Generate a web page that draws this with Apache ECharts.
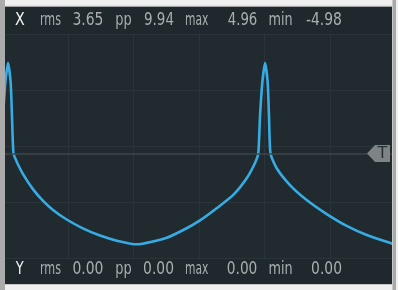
<!DOCTYPE html>
<html><head><meta charset="utf-8">
<script src="https://cdn.jsdelivr.net/npm/echarts@6/dist/echarts.min.js"></script>
<style>html,body{margin:0;padding:0;background:#efefef;overflow:hidden}#c{width:398px;height:290px;}</style>
</head><body><div id="c"></div>
<script>
// time in screen divisions, signal in volts
const timeDiv = [-0.018,0.008,0.043,0.084,0.125,0.145,0.168,0.217,0.318,0.470,0.623,0.776,0.980,1.234,1.489,1.744,2.049,2.507,2.812,3.015,3.270,3.524,3.728,3.855,3.905,3.931,3.966,4.008,4.049,4.069,4.092,4.186,4.389,4.644,4.950,5.255,5.561,5.966];
const volts   = [0.00,2.00,3.86,4.96,3.86,2.00,0.00,-0.45,-1.16,-1.98,-2.61,-3.11,-3.62,-4.12,-4.50,-4.78,-4.98,-4.62,-4.10,-3.67,-3.00,-2.27,-1.36,-0.52,0.00,2.00,3.86,4.96,3.86,2.00,0.00,-0.81,-1.73,-2.55,-3.32,-3.97,-4.47,-4.96];
const triggerLevel = 0;
const xRowTexts = ['X','rms','3.65','pp','9.94','max','4.96','min','-4.98'];
const yRowTexts = ['Y','rms','0.00','pp','0.00','max','0.00','min','0.00'];

// layout (pixel boxes of each token: left, right)
const xRowBoxes = [[15,24.3],[40.7,61],[73.3,102.7],[116,131],[144,173.3],[185.7,208.3],[227.7,256.7],[269.3,292],[306,341.3]];
const yRowBoxes = [[15,24.3],[40.7,61],[73.3,102.7],[116,131],[144,173.3],[185.7,208.3],[227.7,256.7],[269.3,292],[312,341.3]];

const chart = echarts.init(document.getElementById('c'), null, {renderer:'canvas'});
const data = timeDiv.map((t,i)=>[t, volts[i]]);

chart.setOption({
  backgroundColor:'#1f282c',
  animation:false,
  grid:{left:2.5, width:393, top:34, height:224, show:true, backgroundColor:'#212b2f', borderWidth:0},
  xAxis:{type:'value', min:0, max:6, interval:1, axisLine:{show:false}, axisTick:{show:false}, axisLabel:{show:false},
    splitLine:{show:true, lineStyle:{color:'#2b3539', width:1}}},
  yAxis:[
    {type:'value', min:-5.73, max:6.55, axisLine:{show:false}, axisTick:{show:false}, axisLabel:{show:false}, splitLine:{show:false}},
    {type:'value', min:0, max:4, interval:1, axisLine:{show:false}, axisTick:{show:false}, axisLabel:{show:false},
      splitLine:{show:true, lineStyle:{color:'#2b3539', width:1}}}
  ],
  series:[{
    type:'line', data:data, yAxisIndex:0, showSymbol:false, symbol:'none', clip:true,
    smooth:0.2,
    lineStyle:{color:'#37abe3', width:2.6, join:'round'},
    markLine:{silent:true, symbol:'none', label:{show:false},
      lineStyle:{color:'#3c4649', width:1.5, type:'solid'},
      data:[{yAxis:triggerLevel}]}
  }]
});

const ty = chart.convertToPixel({yAxisIndex:0}, triggerLevel);

const cv = document.createElement('canvas').getContext('2d');
const FONT_SIZE = 17;
const FONT = FONT_SIZE + 'px "DejaVu Sans Condensed", "DejaVu Sans", sans-serif';
cv.font = FONT;
function tokens(texts, boxes, cy, firstColor, color){
  return texts.map((t,i)=>{
    const m = cv.measureText(t);
    const w = m.actualBoundingBoxLeft + m.actualBoundingBoxRight;
    const s = (boxes[i][1]-boxes[i][0]) / w;
    return {type:'text', z:60, x: boxes[i][0] + m.actualBoundingBoxLeft*s, y: cy, scaleX: s,
      style:{text:t, font:FONT, fill: i===0 ? firstColor : color, align:'left', verticalAlign:'middle'}};
  });
}

const g = [];
// frame
g.push({type:'rect', z:100, shape:{x:0,y:0,width:398,height:6}, style:{fill:'#efefef'}});
g.push({type:'rect', z:100, shape:{x:5,y:5.5,width:388,height:1.2}, style:{fill:'#d2d2d2'}});
g.push({type:'rect', z:100, shape:{x:0,y:0,width:5,height:290}, style:{fill:'#ababab'}});
g.push({type:'rect', z:100, shape:{x:392,y:0,width:1,height:290}, style:{fill:'#c8c8c8'}});
g.push({type:'rect', z:100, shape:{x:393,y:0,width:3,height:290}, style:{fill:'#a9a9a9'}});
g.push({type:'rect', z:100, shape:{x:396,y:0,width:2,height:290}, style:{fill:'#f0f0f0'}});
g.push({type:'rect', z:100, shape:{x:5,y:284,width:387,height:1}, style:{fill:'#c4c4c4'}});
g.push({type:'rect', z:100, shape:{x:5,y:285,width:387,height:5}, style:{fill:'#efefef'}});
// trigger marker
g.push({type:'polygon', z:70, shape:{points:[[367,ty],[375,ty-8.5],[390,ty-8.5],[390,ty+8.5],[375,ty+8.5]]}, style:{fill:'#7e8385'}});
g.push({type:'text', z:71, x:382.5, y:ty+0.5, style:{text:'T', font:'16px "DejaVu Sans", sans-serif', fill:'#2a2f31', align:'center', verticalAlign:'middle'}});
// readouts
tokens(xRowTexts, xRowBoxes, 20.4, '#f2f2f2', '#a9afb1').forEach(e=>g.push(e));
tokens(yRowTexts, yRowBoxes, 269.7, '#f2f2f2', '#a9afb1').forEach(e=>g.push(e));

chart.setOption({graphic:{elements:g}});
</script></body></html>
